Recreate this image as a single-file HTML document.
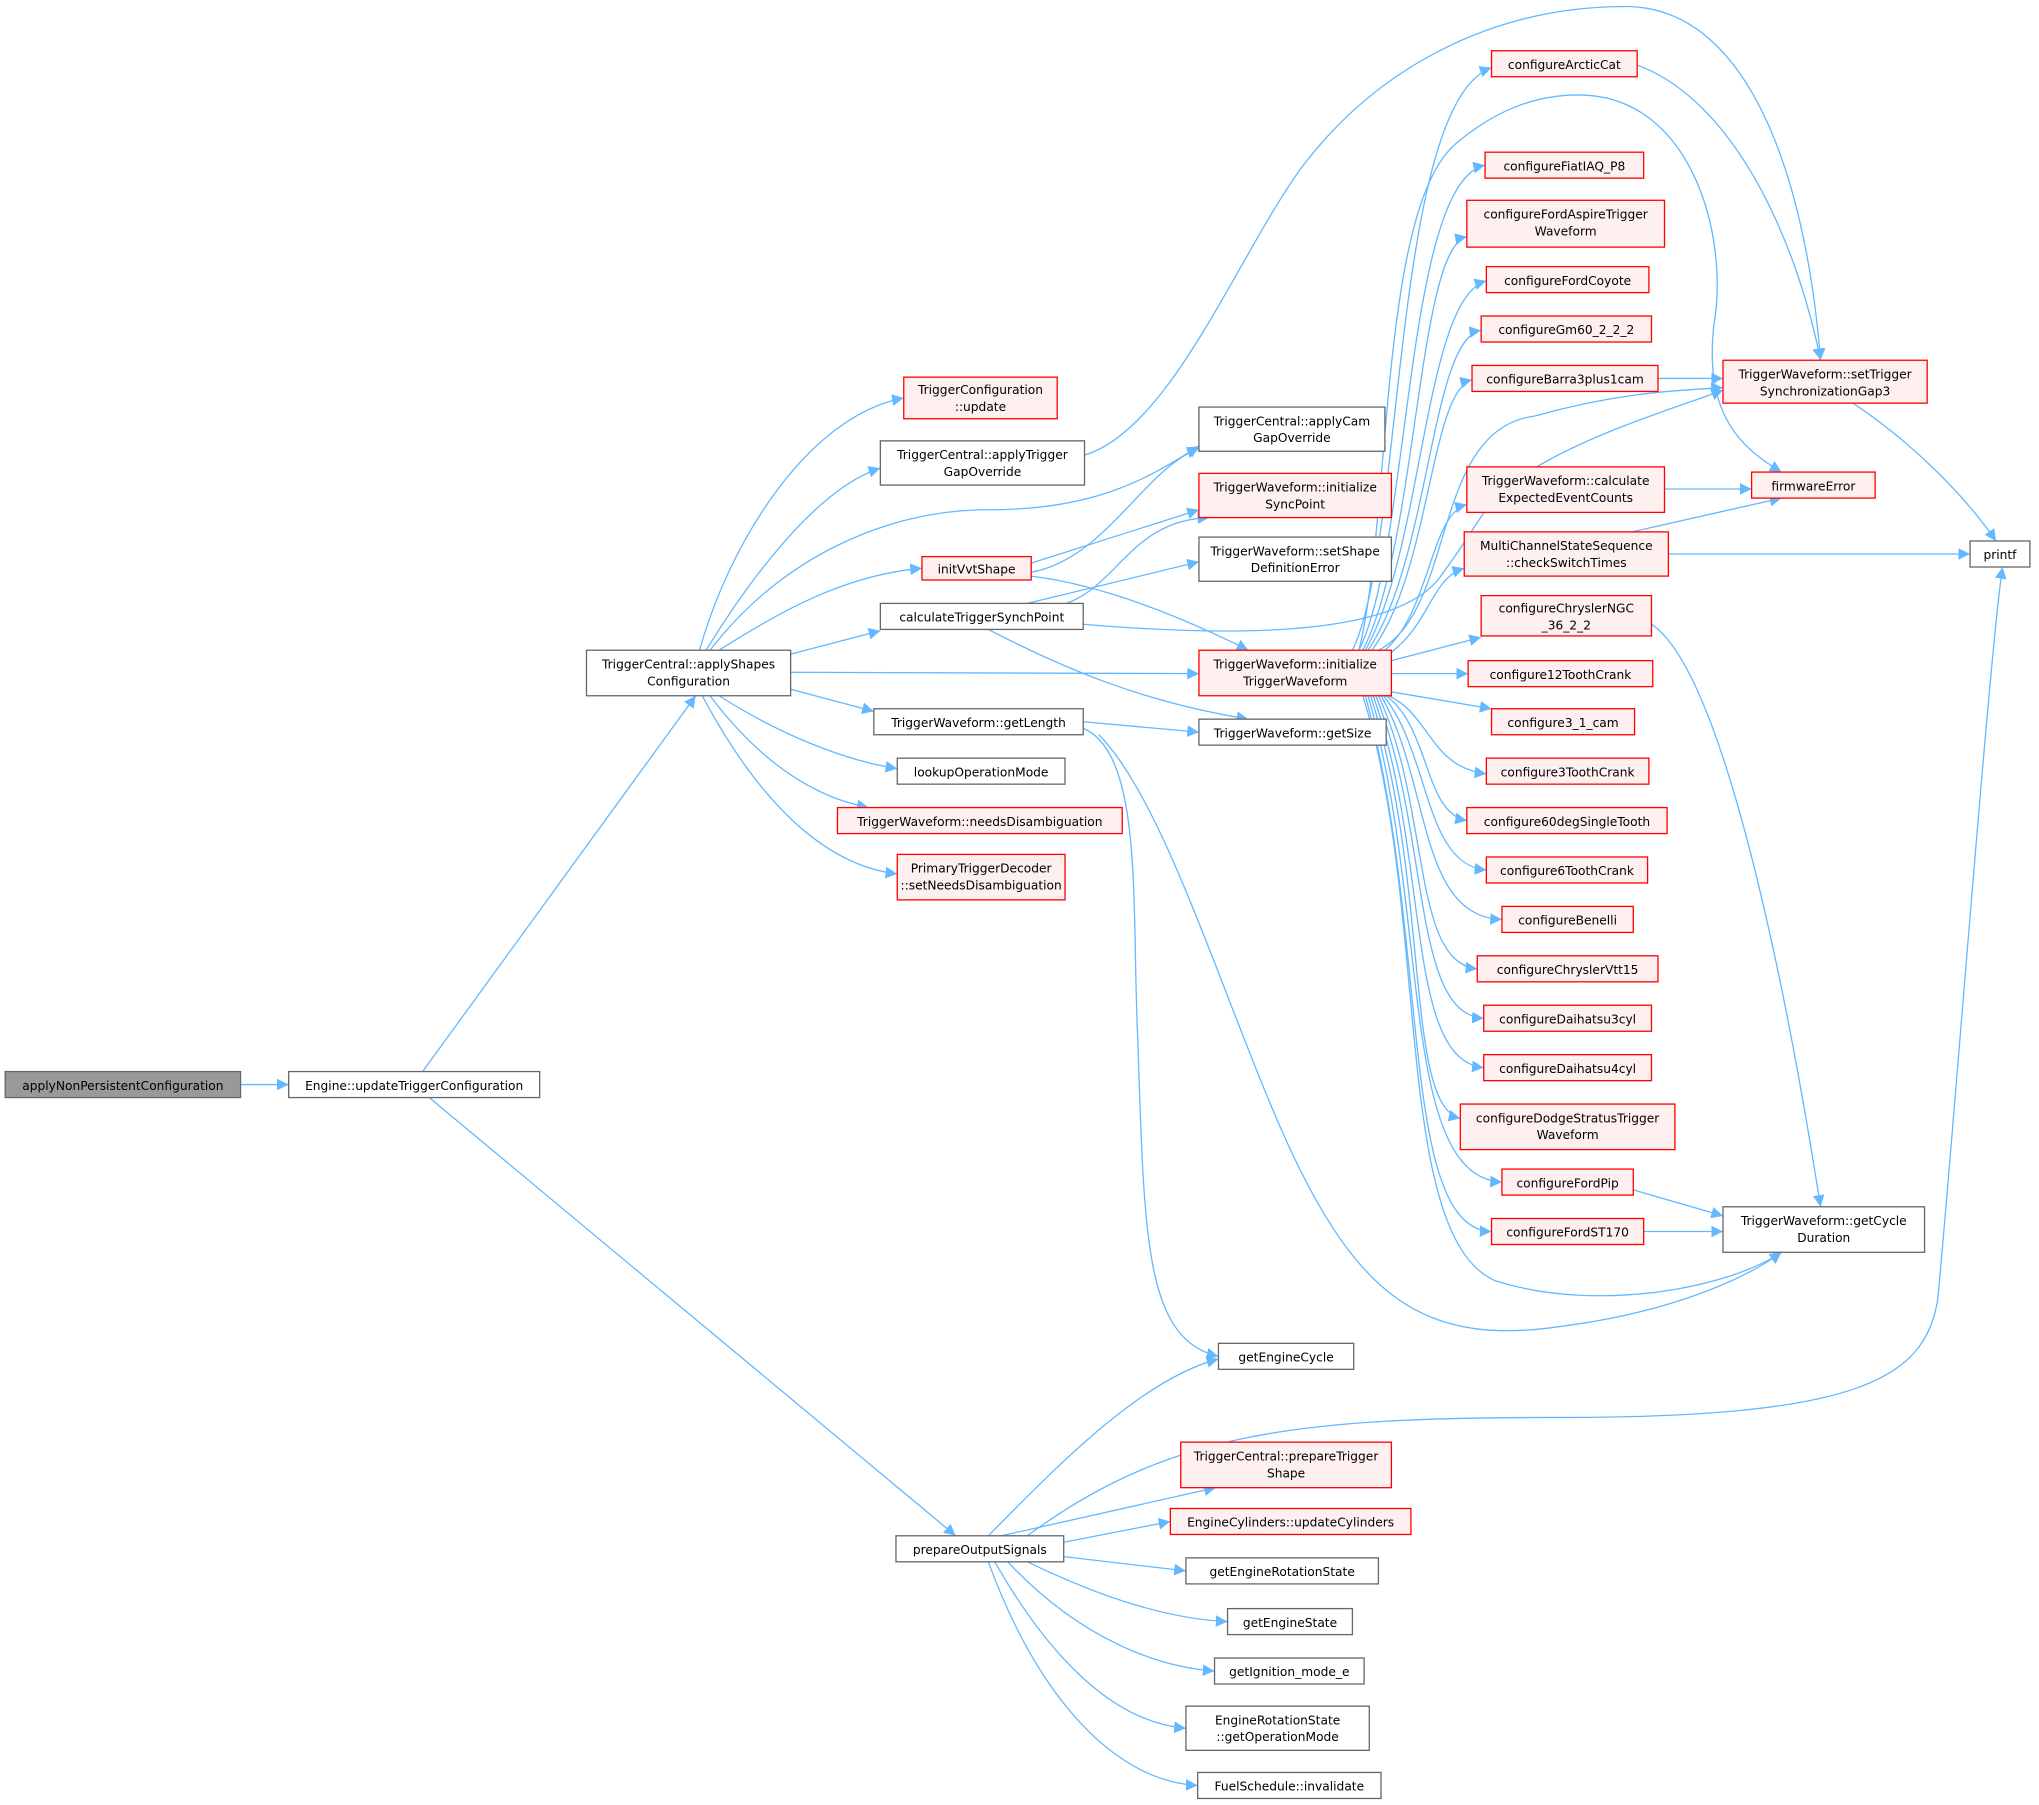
<!DOCTYPE html>
<html><head><meta charset="utf-8"><style>
html,body{margin:0;padding:0;background:#fff}
svg{display:block}
text{font-family:"DejaVu Sans","Liberation Sans",sans-serif;font-size:9.4px;fill:#000;text-anchor:middle}
.n{fill:#fff;stroke:#666;stroke-width:1}
.r{fill:#fff0f0;stroke:#f00;stroke-width:1}
.e{fill:none;stroke:#63b8ff;stroke-width:1}
</style></head><body>
<svg width="2039" height="1805" viewBox="0 0 1568 1388" xmlns="http://www.w3.org/2000/svg">
<defs><marker id="a" viewBox="0 0 10 10" refX="10" refY="5" markerWidth="9" markerHeight="9" markerUnits="userSpaceOnUse" orient="auto"><path d="M0,0 L10,5 L0,10 z" fill="#63b8ff"/></marker></defs>
<g class="e" marker-end="url(#a)">
<path d="M185,834 L222,834"/>
<path d="M325,824 L535,535"/>
<path d="M330,844 L735,1181"/>
<path d="M538,500 C560,420 620,320 695,306"/>
<path d="M543,500 C580,440 630,375 677,360"/>
<path d="M546,500 C600,430 680,392 760,392 C840,392 880,370 922,343"/>
<path d="M553,500 C600,470 650,442 709,437"/>
<path d="M608,503 L677,485"/>
<path d="M608,517 L922,518"/>
<path d="M608,530 L672,547"/>
<path d="M553,535 C600,565 650,585 690,591"/>
<path d="M546,535 C580,580 620,612 668,621"/>
<path d="M540,535 C580,610 630,665 690,672"/>
<path d="M834,350 C900,330 950,200 1000,130 C1060,50 1150,5 1250,5 C1350,5 1390,150 1400,277"/>
<path d="M793,433 L922,392"/>
<path d="M793,440 C850,430 880,360 922,345"/>
<path d="M793,443 C850,450 910,475 960,500"/>
<path d="M790,464 L922,432"/>
<path d="M820,464 C860,450 870,400 930,398"/>
<path d="M833,480 C950,490 1080,490 1110,440 C1140,400 1150,370 1180,360 C1230,330 1300,310 1325,300"/>
<path d="M760,484 C820,515 880,540 960,553"/>
<path d="M833,555 L922,563"/>
<path d="M833,560 C880,580 870,700 875,800 C880,950 880,1030 937,1043"/>
<path d="M845,565 C900,620 950,800 1000,900 C1050,1000 1100,1035 1200,1020 C1280,1010 1340,985 1370,963"/>
<path d="M1040,500 C1080,420 1070,80 1147,52"/>
<path d="M1045,500 C1085,420 1080,140 1142,127"/>
<path d="M1048,500 C1090,420 1090,190 1128,182"/>
<path d="M1050,500 C1095,420 1095,230 1143,216"/>
<path d="M1052,500 C1100,430 1100,260 1139,254"/>
<path d="M1055,500 C1100,440 1100,300 1132,292"/>
<path d="M1060,500 C1120,470 1100,330 1180,320 C1250,300 1300,300 1325,298"/>
<path d="M1045,500 C1070,400 1060,160 1120,110 C1150,85 1180,73 1214,73 C1300,73 1330,180 1318,250 C1310,320 1340,345 1370,363"/>
<path d="M1065,500 C1100,470 1100,395 1128,388"/>
<path d="M1068,503 C1100,480 1100,445 1126,437"/>
<path d="M1070,508 L1139,490"/>
<path d="M1070,518 L1129,518"/>
<path d="M1070,532 L1147,545"/>
<path d="M1068,535 C1100,550 1100,590 1143,595"/>
<path d="M1066,535 C1100,560 1095,625 1128,631"/>
<path d="M1064,535 C1100,580 1095,665 1143,669"/>
<path d="M1062,535 C1100,600 1090,705 1155,707"/>
<path d="M1060,535 C1100,620 1085,740 1136,745"/>
<path d="M1058,535 C1100,640 1085,780 1141,783"/>
<path d="M1056,535 C1100,660 1080,815 1141,821"/>
<path d="M1054,535 C1100,680 1080,850 1123,860"/>
<path d="M1052,535 C1100,700 1075,905 1155,909"/>
<path d="M1050,535 C1100,720 1075,945 1147,947"/>
<path d="M1048,535 C1100,700 1070,950 1150,985 C1230,1010 1330,990 1370,963"/>
<path d="M1259,50 C1340,80 1385,200 1400,277"/>
<path d="M1275,291 L1325,291"/>
<path d="M1280,376 L1347,376"/>
<path d="M1255,409 L1370,383"/>
<path d="M1283,426 L1515,426"/>
<path d="M1425,310 C1470,340 1510,380 1535,416"/>
<path d="M1270,480 C1330,520 1380,800 1400,928"/>
<path d="M1256,915 L1325,935"/>
<path d="M1264,947 L1325,947"/>
<path d="M760,1181 C820,1120 880,1060 937,1045"/>
<path d="M790,1181 C900,1100 1000,1090 1200,1090 C1430,1090 1480,1060 1490,1000 C1500,900 1530,500 1540,436"/>
<path d="M770,1181 L935,1144"/>
<path d="M818,1186 L900,1170"/>
<path d="M818,1197 L912,1208"/>
<path d="M790,1201 C850,1230 900,1245 944,1247"/>
<path d="M775,1201 C830,1260 890,1282 934,1285"/>
<path d="M765,1201 C810,1280 860,1325 912,1329"/>
<path d="M760,1201 C800,1310 860,1370 921,1373"/>
</g>
<rect x="4" y="824" width="181" height="20" fill="#999" stroke="#666"/><text x="94.5" y="838">applyNonPersistentConfiguration</text>
<rect class="n" x="222" y="824" width="193" height="20"/><text x="318.5" y="838">Engine::updateTriggerConfiguration</text>
<rect class="n" x="451" y="500" width="157" height="35"/><text x="529.5" y="514">TriggerCentral::applyShapes</text><text x="529.5" y="527">Configuration</text>
<rect class="r" x="695" y="290" width="118" height="32"/><text x="754" y="303">TriggerConfiguration</text><text x="754" y="316">::update</text>
<rect class="n" x="677" y="339" width="157" height="34"/><text x="755.5" y="353">TriggerCentral::applyTrigger</text><text x="755.5" y="366">GapOverride</text>
<rect class="n" x="922" y="313" width="143" height="34"/><text x="993.5" y="327">TriggerCentral::applyCam</text><text x="993.5" y="340">GapOverride</text>
<rect class="r" x="922" y="364" width="148" height="34"/><text x="996" y="378">TriggerWaveform::initialize</text><text x="996" y="391">SyncPoint</text>
<rect class="n" x="922" y="413" width="148" height="34"/><text x="996" y="427">TriggerWaveform::setShape</text><text x="996" y="440">DefinitionError</text>
<rect class="r" x="709" y="428" width="84" height="18"/><text x="751" y="441">initVvtShape</text>
<rect class="n" x="677" y="464" width="156" height="20"/><text x="755" y="478">calculateTriggerSynchPoint</text>
<rect class="r" x="922" y="500" width="148" height="35"/><text x="996" y="514">TriggerWaveform::initialize</text><text x="996" y="527">TriggerWaveform</text>
<rect class="n" x="672" y="545" width="161" height="20"/><text x="752.5" y="559">TriggerWaveform::getLength</text>
<rect class="n" x="922" y="553" width="144" height="20"/><text x="994" y="567">TriggerWaveform::getSize</text>
<rect class="n" x="690" y="583" width="129" height="20"/><text x="754.5" y="597">lookupOperationMode</text>
<rect class="r" x="644" y="621" width="219" height="20"/><text x="753.5" y="635">TriggerWaveform::needsDisambiguation</text>
<rect class="r" x="690" y="657" width="129" height="35"/><text x="754.5" y="671">PrimaryTriggerDecoder</text><text x="754.5" y="684">::setNeedsDisambiguation</text>
<rect class="r" x="1147" y="39" width="112" height="20"/><text x="1203" y="53">configureArcticCat</text>
<rect class="r" x="1142" y="117" width="122" height="20"/><text x="1203" y="131">configureFiatIAQ_P8</text>
<rect class="r" x="1128" y="154" width="152" height="36"/><text x="1204" y="168">configureFordAspireTrigger</text><text x="1204" y="181">Waveform</text>
<rect class="r" x="1143" y="205" width="125" height="20"/><text x="1205.5" y="219">configureFordCoyote</text>
<rect class="r" x="1139" y="243" width="131" height="20"/><text x="1204.5" y="257">configureGm60_2_2_2</text>
<rect class="r" x="1132" y="281" width="143" height="20"/><text x="1203.5" y="295">configureBarra3plus1cam</text>
<rect class="r" x="1128" y="359" width="152" height="35"/><text x="1204" y="373">TriggerWaveform::calculate</text><text x="1204" y="386">ExpectedEventCounts</text>
<rect class="r" x="1126" y="409" width="157" height="34"/><text x="1204.5" y="423">MultiChannelStateSequence</text><text x="1204.5" y="436">::checkSwitchTimes</text>
<rect class="r" x="1139" y="458" width="131" height="31"/><text x="1204.5" y="471">configureChryslerNGC</text><text x="1204.5" y="484">_36_2_2</text>
<rect class="r" x="1129" y="508" width="142" height="20"/><text x="1200" y="522">configure12ToothCrank</text>
<rect class="r" x="1147" y="545" width="110" height="20"/><text x="1202" y="559">configure3_1_cam</text>
<rect class="r" x="1143" y="583" width="125" height="20"/><text x="1205.5" y="597">configure3ToothCrank</text>
<rect class="r" x="1128" y="621" width="154" height="20"/><text x="1205" y="635">configure60degSingleTooth</text>
<rect class="r" x="1143" y="659" width="124" height="20"/><text x="1205" y="673">configure6ToothCrank</text>
<rect class="r" x="1155" y="697" width="101" height="20"/><text x="1205.5" y="711">configureBenelli</text>
<rect class="r" x="1136" y="735" width="139" height="20"/><text x="1205.5" y="749">configureChryslerVtt15</text>
<rect class="r" x="1141" y="773" width="129" height="20"/><text x="1205.5" y="787">configureDaihatsu3cyl</text>
<rect class="r" x="1141" y="811" width="129" height="20"/><text x="1205.5" y="825">configureDaihatsu4cyl</text>
<rect class="r" x="1123" y="849" width="165" height="35"/><text x="1205.5" y="863">configureDodgeStratusTrigger</text><text x="1205.5" y="876">Waveform</text>
<rect class="r" x="1155" y="899" width="101" height="20"/><text x="1205.5" y="913">configureFordPip</text>
<rect class="r" x="1147" y="937" width="117" height="20"/><text x="1205.5" y="951">configureFordST170</text>
<rect class="r" x="1325" y="277" width="157" height="33"/><text x="1403.5" y="291">TriggerWaveform::setTrigger</text><text x="1403.5" y="304">SynchronizationGap3</text>
<rect class="r" x="1347" y="363" width="95" height="20"/><text x="1394.5" y="377">firmwareError</text>
<rect class="n" x="1515" y="416" width="46" height="20"/><text x="1538" y="430">printf</text>
<rect class="n" x="1325" y="928" width="155" height="35"/><text x="1402.5" y="942">TriggerWaveform::getCycle</text><text x="1402.5" y="955">Duration</text>
<rect class="n" x="937" y="1033" width="104" height="20"/><text x="989" y="1047">getEngineCycle</text>
<rect class="n" x="689" y="1181" width="129" height="20"/><text x="753.5" y="1195">prepareOutputSignals</text>
<rect class="r" x="908" y="1109" width="162" height="35"/><text x="989" y="1123">TriggerCentral::prepareTrigger</text><text x="989" y="1136">Shape</text>
<rect class="r" x="900" y="1160" width="185" height="20"/><text x="992.5" y="1174">EngineCylinders::updateCylinders</text>
<rect class="n" x="912" y="1198" width="148" height="20"/><text x="986" y="1212">getEngineRotationState</text>
<rect class="n" x="944" y="1237" width="96" height="20"/><text x="992" y="1251">getEngineState</text>
<rect class="n" x="934" y="1275" width="115" height="20"/><text x="991.5" y="1289">getIgnition_mode_e</text>
<rect class="n" x="912" y="1312" width="141" height="34"/><text x="982.5" y="1326">EngineRotationState</text><text x="982.5" y="1339">::getOperationMode</text>
<rect class="n" x="921" y="1363" width="141" height="20"/><text x="991.5" y="1377">FuelSchedule::invalidate</text>
</svg>
</body></html>
